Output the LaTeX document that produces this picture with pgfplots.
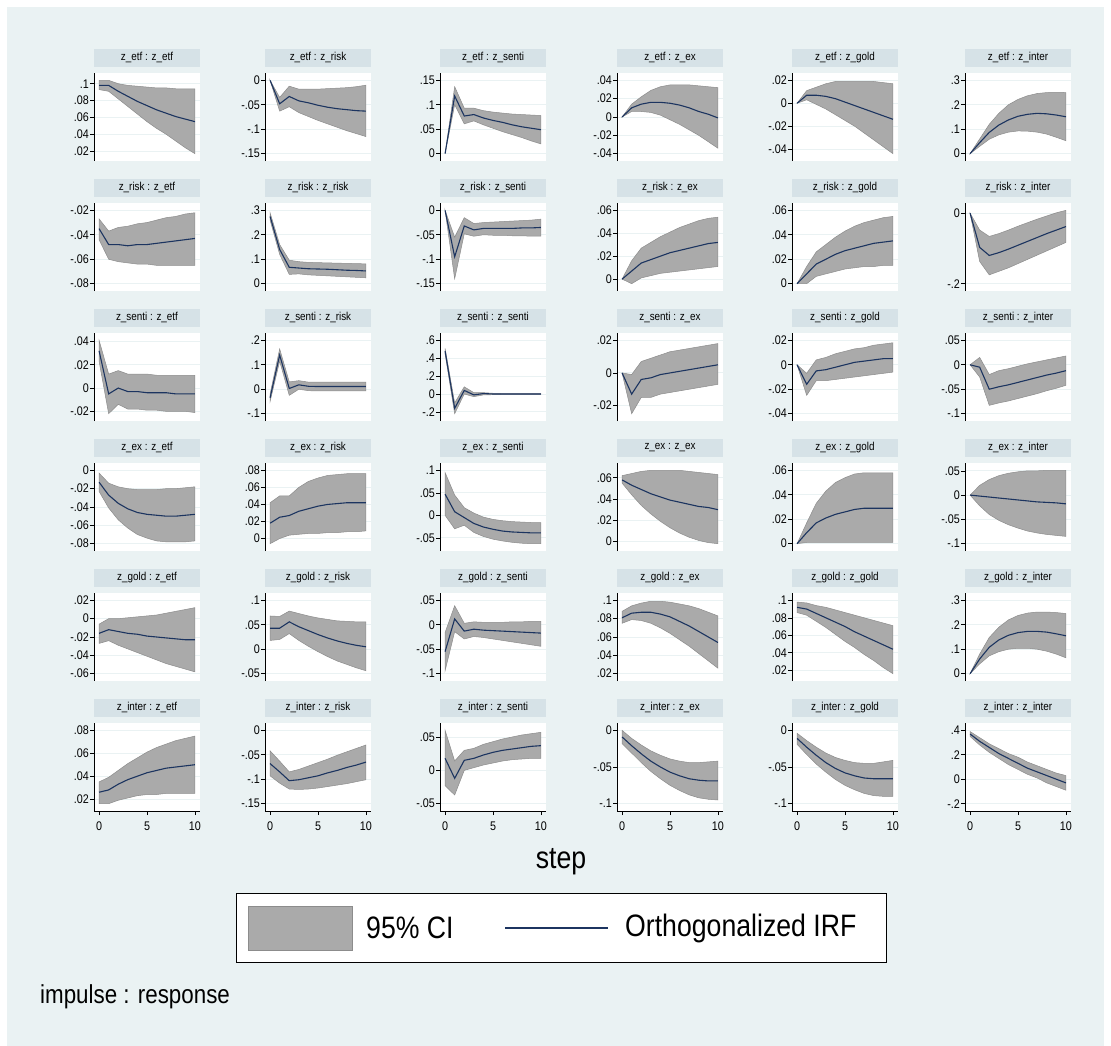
\documentclass[border=0pt]{standalone}
\usepackage{fontspec}
\setmainfont{Liberation Sans}[FakeStretch=0.86]
\usepackage{pgfplots}
\pgfplotsset{compat=1.18}
\usepackage{pgfplotstable}

\definecolor{bgcol}{RGB}{234,242,243}
\definecolor{stripcol}{RGB}{214,226,231}
\definecolor{gridcol}{RGB}{234,242,243}
\definecolor{cigray}{RGB}{170,170,170}
\definecolor{cidark}{RGB}{140,140,140}
\definecolor{irfnavy}{RGB}{28,52,96}

% ---------------- data: step, lower CI, IRF, upper CI ----------------
% impulse z_etf
\pgfplotstableread[row sep=\\]{s lo irf hi\\
0 0.093 0.098 0.104\\ 1 0.091 0.098 0.104\\ 2 0.082 0.091 0.100\\ 3 0.073 0.085 0.098\\
4 0.064 0.079 0.097\\ 5 0.055 0.074 0.096\\ 6 0.047 0.069 0.095\\ 7 0.040 0.065 0.095\\
8 0.032 0.061 0.094\\ 9 0.024 0.058 0.094\\ 10 0.017 0.055 0.094\\}\irfee
\pgfplotstableread[row sep=\\]{s lo irf hi\\
0 0 0 0\\ 1 -0.063 -0.048 -0.035\\ 2 -0.054 -0.033 -0.012\\ 3 -0.066 -0.042 -0.018\\
4 -0.074 -0.046 -0.018\\ 5 -0.082 -0.051 -0.018\\ 6 -0.089 -0.055 -0.017\\ 7 -0.096 -0.058 -0.016\\
8 -0.103 -0.060 -0.015\\ 9 -0.109 -0.062 -0.013\\ 10 -0.115 -0.063 -0.010\\}\irfer
\pgfplotstableread[row sep=\\]{s lo irf hi\\
0 0 0 0\\ 1 0.100 0.118 0.137\\ 2 0.061 0.077 0.093\\ 3 0.067 0.080 0.093\\
4 0.059 0.073 0.088\\ 5 0.052 0.068 0.085\\ 6 0.045 0.064 0.083\\ 7 0.039 0.059 0.081\\
8 0.033 0.055 0.080\\ 9 0.026 0.052 0.079\\ 10 0.020 0.049 0.078\\}\irfes
\pgfplotstableread[row sep=\\]{s lo irf hi\\
0 0 0 0\\ 1 0.006 0.010 0.014\\ 2 0.006 0.014 0.022\\ 3 0.005 0.016 0.029\\
4 0.002 0.016 0.033\\ 5 -0.003 0.015 0.035\\ 6 -0.008 0.013 0.035\\ 7 -0.014 0.010 0.035\\
8 -0.020 0.006 0.034\\ 9 -0.027 0.003 0.033\\ 10 -0.034 -0.001 0.032\\}\irfex
\pgfplotstableread[row sep=\\]{s lo irf hi\\
0 0 0 0\\ 1 0.003 0.007 0.011\\ 2 -0.001 0.007 0.014\\ 3 -0.005 0.006 0.017\\
4 -0.010 0.004 0.019\\ 5 -0.015 0.001 0.019\\ 6 -0.020 -0.002 0.019\\ 7 -0.026 -0.005 0.019\\
8 -0.032 -0.008 0.019\\ 9 -0.038 -0.011 0.018\\ 10 -0.044 -0.014 0.017\\}\irfeg
\pgfplotstableread[row sep=\\]{s lo irf hi\\
0 0 0 0\\ 1 0.030 0.045 0.060\\ 2 0.059 0.087 0.120\\ 3 0.077 0.117 0.165\\
4 0.088 0.138 0.200\\ 5 0.093 0.153 0.222\\ 6 0.092 0.161 0.237\\ 7 0.088 0.165 0.246\\
8 0.080 0.163 0.250\\ 9 0.067 0.158 0.251\\ 10 0.053 0.151 0.250\\}\irfei
% impulse z_risk
\pgfplotstableread[row sep=\\]{s lo irf hi\\
0 -0.044 -0.035 -0.027\\ 1 -0.060 -0.048 -0.037\\ 2 -0.062 -0.048 -0.034\\ 3 -0.063 -0.049 -0.033\\
4 -0.064 -0.048 -0.031\\ 5 -0.064 -0.048 -0.030\\ 6 -0.065 -0.047 -0.028\\ 7 -0.065 -0.046 -0.026\\
8 -0.065 -0.045 -0.025\\ 9 -0.065 -0.044 -0.023\\ 10 -0.065 -0.043 -0.022\\}\irfre
\pgfplotstableread[row sep=\\]{s lo irf hi\\
0 0.260 0.275 0.290\\ 1 0.120 0.140 0.160\\ 2 0.038 0.067 0.096\\ 3 0.040 0.064 0.090\\
4 0.036 0.061 0.087\\ 5 0.034 0.060 0.086\\ 6 0.032 0.059 0.085\\ 7 0.030 0.057 0.084\\
8 0.028 0.055 0.083\\ 9 0.026 0.054 0.082\\ 10 0.024 0.052 0.081\\}\irfrr
\pgfplotstableread[row sep=\\]{s lo irf hi\\
0 0 0 0\\ 1 -0.140 -0.095 -0.055\\ 2 -0.048 -0.032 -0.015\\ 3 -0.053 -0.040 -0.027\\
4 -0.050 -0.037 -0.025\\ 5 -0.051 -0.037 -0.024\\ 6 -0.051 -0.037 -0.023\\ 7 -0.052 -0.037 -0.022\\
8 -0.052 -0.036 -0.021\\ 9 -0.053 -0.036 -0.020\\ 10 -0.053 -0.035 -0.018\\}\irfrs
\pgfplotstableread[row sep=\\]{s lo irf hi\\
0 0 0 0\\ 1 -0.004 0.007 0.016\\ 2 0.001 0.014 0.027\\ 3 0.003 0.017 0.032\\
4 0.005 0.020 0.037\\ 5 0.006 0.023 0.041\\ 6 0.007 0.025 0.045\\ 7 0.008 0.027 0.048\\
8 0.009 0.029 0.051\\ 9 0.010 0.031 0.053\\ 10 0.011 0.032 0.054\\}\irfrx
\pgfplotstableread[row sep=\\]{s lo irf hi\\
0 0 0 0\\ 1 0.000 0.008 0.014\\ 2 0.006 0.016 0.026\\ 3 0.008 0.020 0.032\\
4 0.010 0.024 0.038\\ 5 0.012 0.027 0.043\\ 6 0.013 0.029 0.047\\ 7 0.014 0.031 0.050\\
8 0.014 0.033 0.052\\ 9 0.015 0.034 0.054\\ 10 0.015 0.035 0.055\\}\irfrg
\pgfplotstableread[row sep=\\]{s lo irf hi\\
0 0 0 0\\ 1 -0.137 -0.097 -0.048\\ 2 -0.175 -0.120 -0.066\\ 3 -0.165 -0.112 -0.058\\
4 -0.155 -0.102 -0.048\\ 5 -0.143 -0.091 -0.037\\ 6 -0.131 -0.080 -0.027\\ 7 -0.119 -0.069 -0.017\\
8 -0.107 -0.058 -0.008\\ 9 -0.095 -0.048 0.001\\ 10 -0.083 -0.038 0.008\\}\irfri
% impulse z_senti
\pgfplotstableread[row sep=\\]{s lo irf hi\\
0 0.023 0.032 0.041\\ 1 -0.022 -0.005 0.012\\ 2 -0.014 0.000 0.015\\ 3 -0.018 -0.003 0.012\\
4 -0.018 -0.003 0.012\\ 5 -0.019 -0.004 0.012\\ 6 -0.019 -0.004 0.011\\ 7 -0.020 -0.004 0.011\\
8 -0.020 -0.005 0.011\\ 9 -0.020 -0.005 0.011\\ 10 -0.021 -0.005 0.011\\}\irfse
\pgfplotstableread[row sep=\\]{s lo irf hi\\
0 -0.050 -0.035 -0.020\\ 1 0.115 0.140 0.165\\ 2 -0.025 0.003 0.030\\ 3 0.000 0.018 0.035\\
4 -0.006 0.012 0.029\\ 5 -0.007 0.011 0.029\\ 6 -0.007 0.011 0.029\\ 7 -0.007 0.011 0.029\\
8 -0.007 0.011 0.029\\ 9 -0.007 0.011 0.029\\ 10 -0.007 0.011 0.029\\}\irfsr
\pgfplotstableread[row sep=\\]{s lo irf hi\\
0 0.45 0.48 0.51\\ 1 -0.22 -0.16 -0.10\\ 2 0.00 0.04 0.08\\ 3 -0.03 -0.01 0.015\\
4 -0.01 0.005 0.015\\ 5 -0.008 0.000 0.008\\ 6 -0.005 0.000 0.005\\ 7 -0.004 0.000 0.004\\
8 -0.004 0.000 0.004\\ 9 -0.004 0.000 0.004\\ 10 -0.004 0.000 0.004\\}\irfss
\pgfplotstableread[row sep=\\]{s lo irf hi\\
0 0 0 0\\ 1 -0.025 -0.013 -0.001\\ 2 -0.015 -0.004 0.007\\ 3 -0.015 -0.003 0.009\\
4 -0.013 -0.001 0.011\\ 5 -0.012 0.000 0.013\\ 6 -0.011 0.001 0.014\\ 7 -0.010 0.002 0.015\\
8 -0.009 0.003 0.016\\ 9 -0.008 0.004 0.017\\ 10 -0.007 0.005 0.018\\}\irfsx
\pgfplotstableread[row sep=\\]{s lo irf hi\\
0 0 0 0\\ 1 -0.025 -0.016 -0.007\\ 2 -0.013 -0.005 0.004\\ 3 -0.013 -0.004 0.006\\
4 -0.012 -0.002 0.009\\ 5 -0.011 0.000 0.011\\ 6 -0.010 0.002 0.013\\ 7 -0.009 0.003 0.014\\
8 -0.008 0.004 0.016\\ 9 -0.007 0.005 0.017\\ 10 -0.006 0.005 0.018\\}\irfsg
\pgfplotstableread[row sep=\\]{s lo irf hi\\
0 0 0 0\\ 1 -0.025 -0.005 0.015\\ 2 -0.083 -0.050 -0.020\\ 3 -0.078 -0.045 -0.012\\
4 -0.074 -0.041 -0.008\\ 5 -0.069 -0.036 -0.003\\ 6 -0.064 -0.031 0.002\\ 7 -0.059 -0.026 0.006\\
8 -0.053 -0.021 0.010\\ 9 -0.048 -0.017 0.014\\ 10 -0.042 -0.012 0.018\\}\irfsi
% impulse z_ex
\pgfplotstableread[row sep=\\]{s lo irf hi\\
0 -0.023 -0.013 -0.003\\ 1 -0.041 -0.027 -0.014\\ 2 -0.054 -0.036 -0.018\\ 3 -0.063 -0.042 -0.020\\
4 -0.070 -0.046 -0.021\\ 5 -0.074 -0.048 -0.021\\ 6 -0.077 -0.049 -0.021\\ 7 -0.078 -0.050 -0.020\\
8 -0.078 -0.050 -0.020\\ 9 -0.078 -0.049 -0.019\\ 10 -0.077 -0.048 -0.018\\}\irfxe
\pgfplotstableread[row sep=\\]{s lo irf hi\\
0 -0.006 0.018 0.042\\ 1 0.000 0.025 0.050\\ 2 0.004 0.027 0.050\\ 3 0.005 0.032 0.060\\
4 0.006 0.035 0.067\\ 5 0.006 0.038 0.071\\ 6 0.007 0.040 0.074\\ 7 0.007 0.041 0.075\\
8 0.008 0.042 0.076\\ 9 0.008 0.042 0.076\\ 10 0.009 0.042 0.076\\}\irfxr
\pgfplotstableread[row sep=\\]{s lo irf hi\\
0 0.000 0.047 0.095\\ 1 -0.030 0.008 0.045\\ 2 -0.022 -0.005 0.017\\ 3 -0.038 -0.018 0.005\\
4 -0.047 -0.026 -0.004\\ 5 -0.053 -0.031 -0.009\\ 6 -0.057 -0.035 -0.012\\ 7 -0.060 -0.037 -0.014\\
8 -0.062 -0.038 -0.015\\ 9 -0.063 -0.039 -0.016\\ 10 -0.063 -0.039 -0.016\\}\irfxs
\pgfplotstableread[row sep=\\]{s lo irf hi\\
0 0.055 0.058 0.062\\ 1 0.044 0.053 0.064\\ 2 0.034 0.049 0.066\\ 3 0.026 0.045 0.067\\
4 0.019 0.042 0.067\\ 5 0.013 0.039 0.067\\ 6 0.008 0.037 0.067\\ 7 0.004 0.035 0.066\\
8 0.001 0.033 0.065\\ 9 -0.001 0.032 0.064\\ 10 -0.002 0.030 0.063\\}\irfxx
\pgfplotstableread[row sep=\\]{s lo irf hi\\
0 0 0 0\\ 1 0.001 0.009 0.017\\ 2 0.001 0.017 0.033\\ 3 0.001 0.021 0.043\\
4 0.001 0.024 0.050\\ 5 0.001 0.026 0.054\\ 6 0.001 0.028 0.057\\ 7 0.001 0.029 0.058\\
8 0.001 0.029 0.058\\ 9 0.001 0.029 0.058\\ 10 0.001 0.029 0.058\\}\irfxg
\pgfplotstableread[row sep=\\]{s lo irf hi\\
0 0 0 0\\ 1 -0.022 -0.002 0.020\\ 2 -0.040 -0.004 0.032\\ 3 -0.052 -0.006 0.040\\
4 -0.061 -0.008 0.045\\ 5 -0.068 -0.010 0.048\\ 6 -0.074 -0.012 0.050\\ 7 -0.078 -0.014 0.050\\
8 -0.081 -0.015 0.051\\ 9 -0.083 -0.016 0.051\\ 10 -0.085 -0.018 0.051\\}\irfxi
% impulse z_gold
\pgfplotstableread[row sep=\\]{s lo irf hi\\
0 -0.027 -0.016 -0.006\\ 1 -0.024 -0.012 0.000\\ 2 -0.029 -0.014 0.000\\ 3 -0.033 -0.016 0.001\\
4 -0.037 -0.017 0.002\\ 5 -0.041 -0.019 0.003\\ 6 -0.045 -0.020 0.004\\ 7 -0.049 -0.021 0.006\\
8 -0.052 -0.022 0.008\\ 9 -0.055 -0.023 0.010\\ 10 -0.058 -0.023 0.012\\}\irfge
\pgfplotstableread[row sep=\\]{s lo irf hi\\
0 0.018 0.043 0.068\\ 1 0.020 0.043 0.067\\ 2 0.032 0.056 0.078\\ 3 0.018 0.046 0.073\\
4 0.006 0.038 0.068\\ 5 -0.005 0.030 0.064\\ 6 -0.015 0.023 0.061\\ 7 -0.024 0.017 0.058\\
8 -0.031 0.012 0.057\\ 9 -0.038 0.008 0.056\\ 10 -0.044 0.005 0.056\\}\irfgr
\pgfplotstableread[row sep=\\]{s lo irf hi\\
0 -0.094 -0.055 -0.016\\ 1 -0.014 0.012 0.039\\ 2 -0.029 -0.013 0.003\\ 3 -0.024 -0.009 0.006\\
4 -0.026 -0.011 0.005\\ 5 -0.029 -0.012 0.005\\ 6 -0.032 -0.013 0.005\\ 7 -0.035 -0.014 0.006\\
8 -0.038 -0.015 0.006\\ 9 -0.041 -0.016 0.007\\ 10 -0.044 -0.017 0.007\\}\irfgs
\pgfplotstableread[row sep=\\]{s lo irf hi\\
0 0.075 0.081 0.088\\ 1 0.079 0.086 0.094\\ 2 0.078 0.087 0.097\\ 3 0.075 0.087 0.099\\
4 0.070 0.085 0.099\\ 5 0.064 0.082 0.098\\ 6 0.057 0.077 0.096\\ 7 0.050 0.072 0.094\\
8 0.042 0.066 0.091\\ 9 0.034 0.060 0.087\\ 10 0.026 0.054 0.083\\}\irfgx
\pgfplotstableread[row sep=\\]{s lo irf hi\\
0 0.086 0.092 0.098\\ 1 0.083 0.090 0.097\\ 2 0.076 0.085 0.094\\ 3 0.069 0.080 0.092\\
4 0.061 0.075 0.089\\ 5 0.053 0.070 0.086\\ 6 0.046 0.064 0.083\\ 7 0.038 0.059 0.080\\
8 0.031 0.054 0.077\\ 9 0.023 0.049 0.074\\ 10 0.016 0.044 0.071\\}\irfgg
\pgfplotstableread[row sep=\\]{s lo irf hi\\
0 0 0 0\\ 1 0.040 0.060 0.080\\ 2 0.073 0.108 0.148\\ 3 0.090 0.138 0.190\\
4 0.100 0.157 0.220\\ 5 0.104 0.168 0.238\\ 6 0.104 0.173 0.248\\ 7 0.100 0.173 0.252\\
8 0.092 0.170 0.252\\ 9 0.080 0.163 0.250\\ 10 0.065 0.155 0.246\\}\irfgi
% impulse z_inter
\pgfplotstableread[row sep=\\]{s lo irf hi\\
0 0.016 0.026 0.035\\ 1 0.016 0.028 0.039\\ 2 0.019 0.033 0.045\\ 3 0.021 0.037 0.051\\
4 0.023 0.040 0.056\\ 5 0.024 0.043 0.061\\ 6 0.024 0.045 0.065\\ 7 0.025 0.047 0.068\\
8 0.025 0.048 0.071\\ 9 0.025 0.049 0.073\\ 10 0.025 0.050 0.075\\}\irfie
\pgfplotstableread[row sep=\\]{s lo irf hi\\
0 -0.093 -0.068 -0.042\\ 1 -0.108 -0.085 -0.063\\ 2 -0.120 -0.103 -0.085\\ 3 -0.121 -0.101 -0.080\\
4 -0.120 -0.097 -0.073\\ 5 -0.118 -0.093 -0.066\\ 6 -0.115 -0.087 -0.059\\ 7 -0.112 -0.082 -0.051\\
8 -0.109 -0.076 -0.044\\ 9 -0.105 -0.071 -0.037\\ 10 -0.101 -0.065 -0.030\\}\irfir
\pgfplotstableread[row sep=\\]{s lo irf hi\\
0 -0.023 0.018 0.060\\ 1 -0.037 -0.012 0.014\\ 2 0.000 0.015 0.030\\ 3 0.004 0.018 0.033\\
4 0.008 0.023 0.039\\ 5 0.011 0.027 0.043\\ 6 0.014 0.030 0.047\\ 7 0.016 0.032 0.050\\
8 0.017 0.034 0.053\\ 9 0.018 0.036 0.055\\ 10 0.018 0.037 0.057\\}\irfis
\pgfplotstableread[row sep=\\]{s lo irf hi\\
0 -0.018 -0.009 0.000\\ 1 -0.031 -0.021 -0.011\\ 2 -0.044 -0.032 -0.020\\ 3 -0.056 -0.042 -0.028\\
4 -0.066 -0.050 -0.034\\ 5 -0.075 -0.057 -0.039\\ 6 -0.082 -0.062 -0.042\\ 7 -0.088 -0.066 -0.044\\
8 -0.092 -0.068 -0.044\\ 9 -0.094 -0.069 -0.043\\ 10 -0.095 -0.069 -0.042\\}\irfix
\pgfplotstableread[row sep=\\]{s lo irf hi\\
0 -0.019 -0.011 -0.004\\ 1 -0.033 -0.023 -0.014\\ 2 -0.046 -0.034 -0.023\\ 3 -0.057 -0.044 -0.031\\
4 -0.067 -0.052 -0.037\\ 5 -0.075 -0.058 -0.041\\ 6 -0.081 -0.062 -0.044\\ 7 -0.086 -0.065 -0.045\\
8 -0.089 -0.066 -0.045\\ 9 -0.090 -0.066 -0.043\\ 10 -0.090 -0.066 -0.041\\}\irfig
\pgfplotstableread[row sep=\\]{s lo irf hi\\
0 0.35 0.37 0.39\\ 1 0.28 0.31 0.34\\ 2 0.22 0.26 0.29\\ 3 0.17 0.21 0.25\\
4 0.12 0.17 0.21\\ 5 0.08 0.13 0.18\\ 6 0.04 0.09 0.14\\ 7 0.01 0.06 0.11\\
8 -0.03 0.03 0.08\\ 9 -0.06 0.00 0.05\\ 10 -0.09 -0.03 0.03\\}\irfii

\newcommand{\ticksize}{\fontsize{12.5}{13}\selectfont}
\pgfplotsset{
  geom/.style={
    width=106pt, height=88pt, scale only axis, anchor=north west,
    xmin=-0.53, xmax=10.53,
  },
  panel/.style={
    geom,
    axis background/.style={fill=white},
    axis y line*=left,
    axis line style={-, black, line width=0.7pt},
    ymajorgrids, grid style={gridcol, line width=0.9pt},
    tick align=outside, major tick length=4pt,
    every tick/.style={black, line width=0.6pt},
    scaled y ticks=false, scaled x ticks=false,
    yticklabel style={font=\ticksize, inner sep=1pt},
    title style={at={(0.5,1)}, anchor=south, yshift=0pt, fill=stripcol,
      minimum width=106pt, minimum height=18pt, inner sep=0pt,
      font=\fontsize{11.5}{12}\selectfont},
    stack plots=y,
  },
  otherrow/.style={hide x axis},
  lastrow/.style={axis x line*=bottom, xtick={0,5,10}, xticklabels={0,5,10},
    xticklabel style={font=\ticksize, inner sep=2pt, yshift=-5pt}},
}

% #1 column, #2 row, #3 title, #4 table, #5 low, #6 high, #7 ticks, #8 tick labels
\newcommand{\panel}[8]{%
  \pgfmathsetmacro\pnlx{{94,265,440,617,792,965}[#1]}%
  \pgfmathsetmacro\pnly{-73-130*#2}%
  \pgfmathsetmacro\pnlymin{(#5)-0.1*((#6)-(#5))}%
  \pgfmathsetmacro\pnlymax{(#6)+0.1*((#6)-(#5))}%
  \ifnum#2=5 \pgfplotsset{xrow/.style={lastrow}}\else\pgfplotsset{xrow/.style={otherrow}}\fi
  % confidence band: lower bound (invisible) with the band stacked on it
  \begin{axis}[panel, xrow, at={(\pnlx pt,\pnly pt)}, ymin=\pnlymin, ymax=\pnlymax,
      ytick={#7}, yticklabels={#8}, title={#3}]
    \addplot[draw=none] table[x=s, y=lo]{#4};
    \addplot[fill=cigray, draw=cidark, line width=0.5pt] table[x=s, y expr=\thisrow{hi}-\thisrow{lo}]{#4} \closedcycle;
  \end{axis}
  % orthogonalized IRF on an identical, hidden axis
  \begin{axis}[geom, hide axis, at={(\pnlx pt,\pnly pt)}, ymin=\pnlymin, ymax=\pnlymax]
    \addplot[irfnavy, line width=1.1pt] table[x=s, y=irf]{#4};
  \end{axis}}

\begin{document}
\begin{tikzpicture}
\useasboundingbox (0pt,0pt) rectangle (1111pt,-1046pt);
\fill[white] (0pt,0pt) rectangle (1111pt,-1046pt);
\fill[bgcol] (7pt,-7pt) rectangle (1104pt,-1046pt);

% row 0: impulse z_etf
\panel{0}{0}{z\_etf : z\_etf}{\irfee}{0.017}{0.104}{0.02,0.04,0.06,0.08,0.1}{.02,.04,.06,.08,.1}
\panel{1}{0}{z\_etf : z\_risk}{\irfer}{-0.15}{0}{-0.15,-0.1,-0.05,0}{-.15,-.1,-.05,0}
\panel{2}{0}{z\_etf : z\_senti}{\irfes}{0}{0.15}{0,0.05,0.1,0.15}{0,.05,.1,.15}
\panel{3}{0}{z\_etf : z\_ex}{\irfex}{-0.04}{0.04}{-0.04,-0.02,0,0.02,0.04}{-.04,-.02,0,.02,.04}
\panel{4}{0}{z\_etf : z\_gold}{\irfeg}{-0.044}{0.02}{-0.04,-0.02,0,0.02}{-.04,-.02,0,.02}
\panel{5}{0}{z\_etf : z\_inter}{\irfei}{0}{0.3}{0,0.1,0.2,0.3}{0,.1,.2,.3}
% row 1: impulse z_risk
\panel{0}{1}{z\_risk : z\_etf}{\irfre}{-0.08}{-0.02}{-0.08,-0.06,-0.04,-0.02}{-.08,-.06,-.04,-.02}
\panel{1}{1}{z\_risk : z\_risk}{\irfrr}{0}{0.3}{0,0.1,0.2,0.3}{0,.1,.2,.3}
\panel{2}{1}{z\_risk : z\_senti}{\irfrs}{-0.15}{0}{-0.15,-0.1,-0.05,0}{-.15,-.1,-.05,0}
\panel{3}{1}{z\_risk : z\_ex}{\irfrx}{-0.004}{0.06}{0,0.02,0.04,0.06}{0,.02,.04,.06}
\panel{4}{1}{z\_risk : z\_gold}{\irfrg}{0}{0.06}{0,0.02,0.04,0.06}{0,.02,.04,.06}
\panel{5}{1}{z\_risk : z\_inter}{\irfri}{-0.2}{0.008}{-0.2,0}{-.2,0}
% row 2: impulse z_senti
\panel{0}{2}{z\_senti : z\_etf}{\irfse}{-0.022}{0.041}{-0.02,0,0.02,0.04}{-.02,0,.02,.04}
\panel{1}{2}{z\_senti : z\_risk}{\irfsr}{-0.1}{0.2}{-0.1,0,0.1,0.2}{-.1,0,.1,.2}
\panel{2}{2}{z\_senti : z\_senti}{\irfss}{-0.22}{0.6}{-0.2,0,0.2,0.4,0.6}{-.2,0,.2,.4,.6}
\panel{3}{2}{z\_senti : z\_ex}{\irfsx}{-0.025}{0.02}{-0.02,0,0.02}{-.02,0,.02}
\panel{4}{2}{z\_senti : z\_gold}{\irfsg}{-0.04}{0.02}{-0.04,-0.02,0,0.02}{-.04,-.02,0,.02}
\panel{5}{2}{z\_senti : z\_inter}{\irfsi}{-0.1}{0.05}{-0.1,-0.05,0,0.05}{-.1,-.05,0,.05}
% row 3: impulse z_ex
\panel{0}{3}{z\_ex : z\_etf}{\irfxe}{-0.08}{0}{-0.08,-0.06,-0.04,-0.02,0}{-.08,-.06,-.04,-.02,0}
\panel{1}{3}{z\_ex : z\_risk}{\irfxr}{-0.006}{0.08}{0,0.02,0.04,0.06,0.08}{0,.02,.04,.06,.08}
\panel{2}{3}{z\_ex : z\_senti}{\irfxs}{-0.063}{0.1}{-0.05,0,0.05,0.1}{-.05,0,.05,.1}
\panel{3}{3}{z\_ex : z\_ex}{\irfxx}{-0.002}{0.067}{0,0.02,0.04,0.06}{0,.02,.04,.06}
\panel{4}{3}{z\_ex : z\_gold}{\irfxg}{0}{0.06}{0,0.02,0.04,0.06}{0,.02,.04,.06}
\panel{5}{3}{z\_ex : z\_inter}{\irfxi}{-0.1}{0.051}{-0.1,-0.05,0,0.05}{-.1,-.05,0,.05}
% row 4: impulse z_gold
\panel{0}{4}{z\_gold : z\_etf}{\irfge}{-0.06}{0.02}{-0.06,-0.04,-0.02,0,0.02}{-.06,-.04,-.02,0,.02}
\panel{1}{4}{z\_gold : z\_risk}{\irfgr}{-0.05}{0.1}{-0.05,0,0.05,0.1}{-.05,0,.05,.1}
\panel{2}{4}{z\_gold : z\_senti}{\irfgs}{-0.1}{0.05}{-0.1,-0.05,0,0.05}{-.1,-.05,0,.05}
\panel{3}{4}{z\_gold : z\_ex}{\irfgx}{0.02}{0.1}{0.02,0.04,0.06,0.08,0.1}{.02,.04,.06,.08,.1}
\panel{4}{4}{z\_gold : z\_gold}{\irfgg}{0.016}{0.1}{0.02,0.04,0.06,0.08,0.1}{.02,.04,.06,.08,.1}
\panel{5}{4}{z\_gold : z\_inter}{\irfgi}{0}{0.3}{0,0.1,0.2,0.3}{0,.1,.2,.3}
% row 5: impulse z_inter
\panel{0}{5}{z\_inter : z\_etf}{\irfie}{0.016}{0.08}{0.02,0.04,0.06,0.08}{.02,.04,.06,.08}
\panel{1}{5}{z\_inter : z\_risk}{\irfir}{-0.15}{0}{-0.15,-0.1,-0.05,0}{-.15,-.1,-.05,0}
\panel{2}{5}{z\_inter : z\_senti}{\irfis}{-0.05}{0.06}{-0.05,0,0.05}{-.05,0,.05}
\panel{3}{5}{z\_inter : z\_ex}{\irfix}{-0.1}{0}{-0.1,-0.05,0}{-.1,-.05,0}
\panel{4}{5}{z\_inter : z\_gold}{\irfig}{-0.1}{0}{-0.1,-0.05,0}{-.1,-.05,0}
\panel{5}{5}{z\_inter : z\_inter}{\irfii}{-0.2}{0.4}{-0.2,0,0.2,0.4}{-.2,0,.2,.4}

% x-axis title
\node[font=\fontsize{31}{34}\selectfont] at (561pt,-862pt) {step};

% legend
\draw[fill=white, draw=black, line width=0.8pt] (236pt,-893pt) rectangle (886pt,-962pt);
\draw[fill=cigray, draw=cidark, line width=0.8pt] (248pt,-906pt) rectangle (352pt,-950pt);
\node[anchor=west, font=\fontsize{31}{34}\selectfont, inner sep=0pt] at (366pt,-928pt) {95\% CI};
\draw[irfnavy, line width=1.8pt] (505pt,-928pt) -- (608pt,-928pt);
\node[anchor=west, font=\fontsize{31}{34}\selectfont, inner sep=0pt] at (625pt,-928pt) {Orthogonalized IRF};

% note
\node[anchor=base west, font=\fontsize{26}{28}\selectfont, inner sep=0pt] at (40pt,-1003pt) {impulse : response};
\end{tikzpicture}
\end{document}
